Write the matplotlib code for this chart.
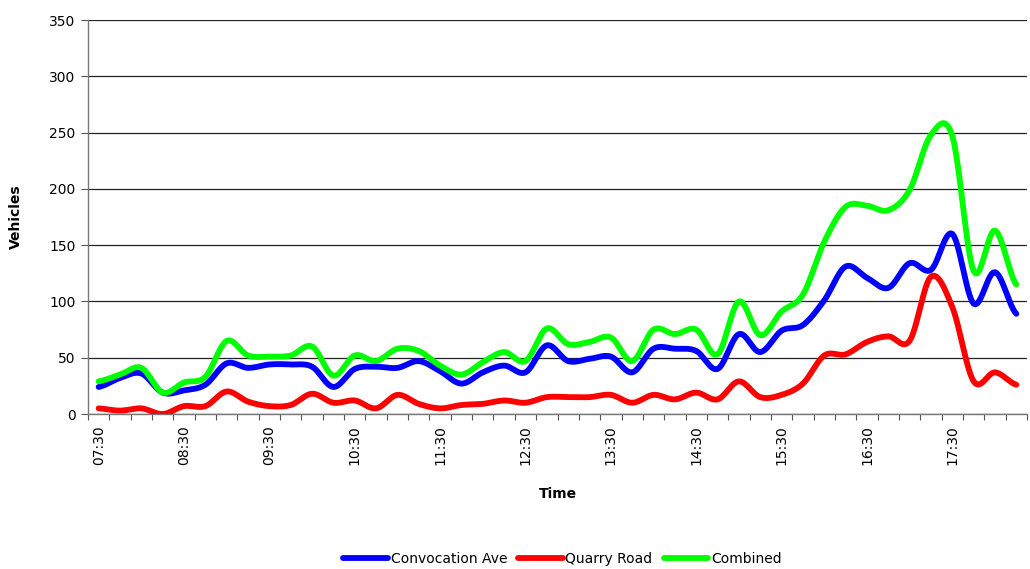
import numpy as np
import matplotlib.pyplot as plt
from matplotlib.ticker import FixedLocator

# 15 minute counts, 07:30 .. 18:15
tick_labels = ['07:30', '08:30', '09:30', '10:30', '11:30', '12:30',
               '13:30', '14:30', '15:30', '16:30', '17:30']

convocation = [24, 32, 36, 19, 21, 26, 45, 41, 44, 44, 42, 24, 40, 42, 41,
               47, 38, 27, 37, 43, 37, 61, 47, 49, 51, 37, 58, 58, 56, 40,
               71, 55, 74, 79, 101, 131, 121, 112, 134, 128, 160, 98, 126, 89]
quarry = [5, 3, 5, 0, 7, 7, 20, 11, 7, 8, 18, 10, 12, 5, 17,
          9, 5, 8, 9, 12, 10, 15, 15, 15, 17, 10, 17, 13, 19, 13,
          29, 15, 17, 27, 52, 53, 64, 69, 65, 122, 95, 29, 37, 26]
combined = [29, 35, 41, 19, 28, 33, 65, 52, 51, 52, 60, 34, 52, 47, 58,
            56, 43, 35, 46, 55, 47, 76, 62, 64, 68, 47, 75, 71, 75, 53,
            100, 70, 91, 106, 153, 184, 185, 181, 199, 248, 247, 127, 163, 115]

series = [('Convocation Ave', convocation, '#0000ff'),
          ('Quarry Road', quarry, '#ff0000'),
          ('Combined', combined, '#00ff00')]


def smooth(y, steps=12):
    # catmull-rom through the points, like excel's smoothed line
    y = np.asarray(y, dtype=float)
    p = np.concatenate([[y[0]], y, [y[-1]]])
    xs, ys = [], []
    t = np.linspace(0, 1, steps, endpoint=False)
    for i in range(len(y) - 1):
        p0, p1, p2, p3 = p[i], p[i + 1], p[i + 2], p[i + 3]
        v = 0.5 * (2 * p1 + (-p0 + p2) * t + (2 * p0 - 5 * p1 + 4 * p2 - p3) * t ** 2
                   + (-p0 + 3 * p1 - 3 * p2 + p3) * t ** 3)
        xs.extend(i + t)
        ys.extend(v)
    xs.append(len(y) - 1)
    ys.append(y[-1])
    return np.array(xs), np.array(ys)


fig = plt.figure(figsize=(10.3, 5.69), dpi=100)
ax = fig.add_axes([88 / 1030, 1 - 414 / 569, 939 / 1030, 394 / 569])

for name, vals, col in series:
    sx, sy = smooth(vals)
    ax.plot(sx, sy, color=col, lw=4.2, solid_capstyle='round', label=name, zorder=3)

n = len(convocation)
ax.set_xlim(-0.5, n - 0.5)
ax.set_ylim(0, 350)
ax.set_yticks(np.arange(0, 351, 50))
ax.yaxis.grid(True, color='#222222', lw=0.9)
ax.set_axisbelow(True)

ax.set_xticks(np.arange(0, n, 4))
ax.set_xticklabels(tick_labels, rotation=90, fontsize=10)
ax.xaxis.set_minor_locator(FixedLocator(np.arange(-0.5, n, 1)))
ax.tick_params(axis='x', which='major', length=0, pad=8)
ax.tick_params(axis='x', which='minor', length=4, width=0.8, color='#555555')
ax.tick_params(axis='y', length=5, width=0.8, color='#555555', labelsize=10, pad=4)

for s in ['top', 'right']:
    ax.spines[s].set_visible(False)
for s in ['left', 'bottom']:
    ax.spines[s].set_color('#777777')
    ax.spines[s].set_linewidth(1)

ax.set_ylabel('Vehicles', fontsize=10, fontweight='bold', labelpad=19)
ax.set_xlabel('Time', fontsize=10, fontweight='bold', labelpad=16)

leg = fig.legend(loc='lower center', bbox_to_anchor=(0.546, -0.016), ncol=3, frameon=False,
                 fontsize=10, handlelength=3.2, handletextpad=0.2, columnspacing=0.8)
for t in leg.get_texts():
    t.set_verticalalignment('baseline')

fig.savefig('out.png', dpi=100)
